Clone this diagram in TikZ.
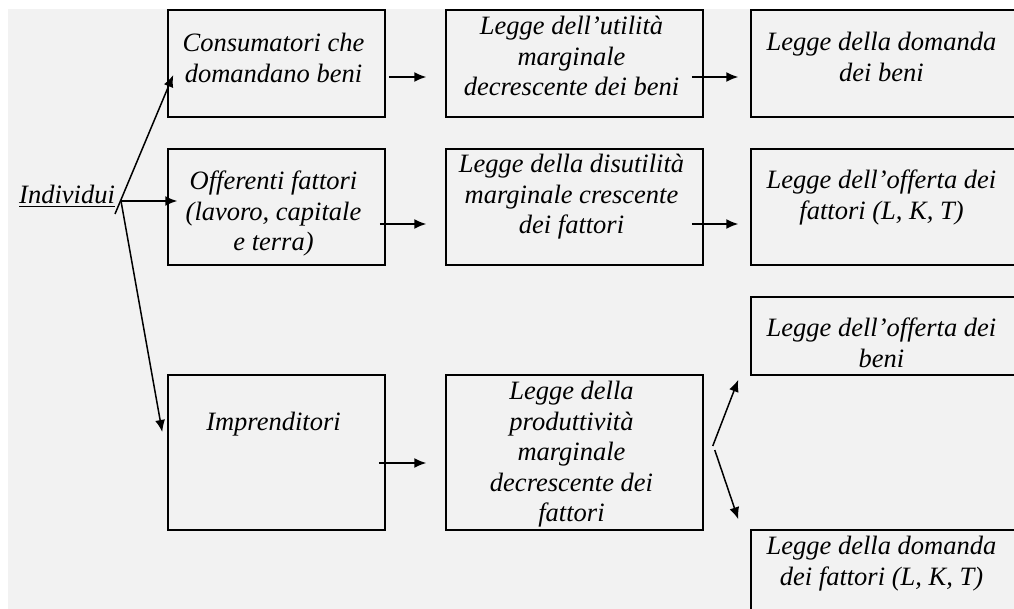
\documentclass[tikz,border=0pt]{standalone}
\usepackage{fontspec}
\setmainfont{Liberation Serif}
\usetikzlibrary{positioning, arrows.meta}
\definecolor{panel}{HTML}{F2F2F2}
\tikzset{
box/.style={
  draw, 
  rectangle, 
  line width=1.5pt, 
  inner sep=0pt
  }, 
txt/.style={
  align=center, 
  inner sep=0pt, 
  font=\fontsize{26.5}{30.5}\selectfont\itshape
  }, 
line/.style={-{Latex[length=12pt,width=10pt]}, line width=1.5pt}
}

\begin{document}
\begin{tikzpicture}[x=1pt, y=-1pt]
\useasboundingbox (0,0) rectangle (1014,609);
\clip (0,0) rectangle (1014,609);
\fill[panel] (8,9) rectangle (1014,609);
\node[box, minimum width=217pt, minimum height=107pt] (cons) at (276.5,63.5) {};
\node[box, minimum width=217pt, minimum height=116pt] (off) at (276.5,207) {};
\node[box, minimum width=217pt, minimum height=155pt] (impr) at (276.5,452.5) {};
\node[box, minimum width=257pt, minimum height=107pt] (util) at (574.5,63.5) {};
\node[box, minimum width=257pt, minimum height=116pt] (disut) at (574.5,207) {};
\node[box, minimum width=257pt, minimum height=155pt] (prod) at (574.5,452.5) {};
\node[box, minimum width=265pt, minimum height=107pt] (dombeni) at (883.5,63.5) {};
\node[box, minimum width=265pt, minimum height=116pt] (offfatt) at (883.5,207) {};
\node[box, minimum width=265pt, minimum height=78pt] (offbeni) at (883.5,336) {};
\node[box, minimum width=265pt, minimum height=107pt] (domfatt) at (883.5,583.5) {};
\node[txt, below=23.7pt of cons.north, xshift=-3pt] (consT) {Consumatori che\\domandano beni};
\node[txt, below=22.7pt of off.north, xshift=-3pt] (offT) {Offerenti fattori\\(lavoro, capitale\\e terra)};
\node[txt, below=38pt of impr.north, xshift=-3pt] (imprT) {Imprenditori};
\node[txt, below=6.7pt of util.north, xshift=-3pt] (utilT) {Legge dell’utilità\\marginale\\decrescente dei beni};
\node[txt, below=5.7pt of disut.north, xshift=-3pt] (disutT) {Legge della disutilità\\marginale crescente\\dei fattori};
\node[txt, below=6.7pt of prod.north, xshift=-3pt] (prodT) {Legge della\\produttività\\marginale\\decrescente dei\\fattori};
\node[txt, below=22.7pt of dombeni.north, xshift=-2pt] (dombeniT) {Legge della domanda\\dei beni};
\node[txt, below=21.7pt of offfatt.north, xshift=-2pt] (offfattT) {Legge dell’offerta dei\\fattori (L, K, T)};
\node[txt, below=21.7pt of offbeni.north, xshift=-2pt] (offbeniT) {Legge dell’offerta dei\\beni};
\node[txt, below=6.7pt of domfatt.north, xshift=-2pt] (domfattT) {Legge della domanda\\dei fattori (L, K, T)};
\node[txt, anchor=base west] (ind) at (19,204) {\underline{Individui}};
\coordinate (fork) at (121,201);
\coordinate (tail) at (115,214);
\draw[line] (tail) -- ([shift={(6,11.5)}]cons.west);
\draw[line] (fork) -- ([shift={(10,-6)}]off.west);
\draw[line] (fork) -- ([shift={(-5,-20.5)}]impr.west);
\draw[line] ([shift={(3,13.5)}]cons.east) -- ([shift={(-19,13.5)}]util.west);
\draw[line] ([shift={(-6,17)}]off.east) -- ([shift={(-19,17)}]disut.west);
\draw[line] ([shift={(-7,10.5)}]impr.east) -- ([shift={(-19,10.5)}]prod.west);
\draw[line] ([shift={(-12,13.5)}]util.east) -- ([shift={(-12,13.5)}]dombeni.west);
\draw[line] ([shift={(-12,17)}]disut.east) -- ([shift={(-12,17)}]offfatt.west);
\draw[line] ([shift={(9,-6.5)}]prod.east) -- ([shift={(-12,4)}]offbeni.south west);
\draw[line] ([shift={(11,-2.5)}]prod.east) -- ([shift={(-12,-10)}]domfatt.north west);
\end{tikzpicture}
\end{document}
